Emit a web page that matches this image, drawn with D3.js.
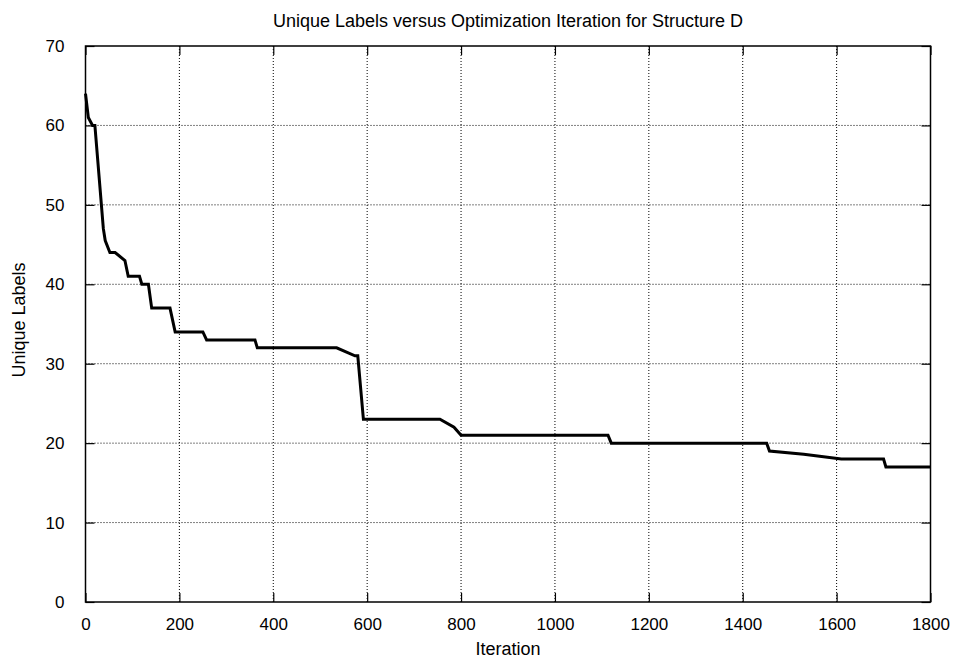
<!DOCTYPE html>
<html>
<head>
<meta charset="utf-8">
<script src="https://cdn.jsdelivr.net/npm/d3@7"></script>
<style>
  body { margin: 0; background: #fff; }
  svg { display: block; font-family: "Liberation Sans", Arial, Helvetica, sans-serif; }
</style>
</head>
<body>
<svg id="chart" width="959" height="659"></svg>
<script>
// values
const iterations = [0, 6, 15, 20, 38, 42, 52, 63, 84, 91, 115, 120, 134, 141, 180, 191,
  250, 258, 361, 366, 535, 574, 580, 592, 755, 785, 800, 1113, 1120, 1451, 1457,
  1530, 1610, 1700, 1705, 1800];
const uniqueLabels = [64, 61, 60, 60, 47, 45.5, 44, 44, 43, 41, 41, 40, 40, 37, 37, 34,
  34, 33, 33, 32, 32, 31, 31, 23, 23, 22, 21, 21, 20, 20, 19,
  18.6, 18, 18, 17, 17];
const xTicks = [0, 200, 400, 600, 800, 1000, 1200, 1400, 1600, 1800];
const yTicks = [0, 10, 20, 30, 40, 50, 60, 70];

const svg = d3.select('#chart');
const plotLeft = 85.5, plotRight = 930.5, plotTop = 46, plotBottom = 602;

const x = d3.scaleLinear().domain([0, 1800]).range([plotLeft, plotRight]);
const y = d3.scaleLinear().domain([0, 70]).range([plotBottom, plotTop]);

// grid
svg.append('g')
  .selectAll('line')
  .data(xTicks.slice(1, -1))
  .join('line')
  .attr('x1', d => x(d)).attr('x2', d => x(d))
  .attr('y1', plotTop).attr('y2', plotBottom)
  .attr('stroke', '#000')
  .attr('stroke-width', 1)
  .attr('stroke-dasharray', '1,2');

svg.append('g')
  .selectAll('line')
  .data(yTicks.slice(1, -1))
  .join('line')
  .attr('x1', plotLeft).attr('x2', plotRight)
  .attr('y1', d => y(d)).attr('y2', d => y(d))
  .attr('stroke', '#000')
  .attr('stroke-width', 1)
  .attr('stroke-dasharray', '1,2');

// axes, ticks pointing inward
const tickLen = 9;
const fmt = d3.format('d');
const xAxis = svg.append('g')
  .attr('transform', `translate(0,${plotBottom})`)
  .call(d3.axisBottom(x).tickValues(xTicks).tickFormat(fmt).tickSizeInner(-tickLen).tickSizeOuter(0).tickPadding(16));
const yAxis = svg.append('g')
  .attr('transform', `translate(${plotLeft},0)`)
  .call(d3.axisLeft(y).tickValues(yTicks).tickFormat(fmt).tickSizeInner(-tickLen).tickSizeOuter(0).tickPadding(21));
const xTop = svg.append('g')
  .attr('transform', `translate(0,${plotTop})`)
  .call(d3.axisTop(x).tickValues(xTicks).tickSizeInner(-tickLen).tickSizeOuter(0).tickFormat(''));
const yRight = svg.append('g')
  .attr('transform', `translate(${plotRight},0)`)
  .call(d3.axisRight(y).tickValues(yTicks).tickSizeInner(-tickLen).tickSizeOuter(0).tickFormat(''));

[xAxis, yAxis, xTop, yRight].forEach(g => {
  g.select('.domain').remove();
  g.selectAll('line').attr('stroke', '#000').attr('stroke-width', 1.2);
  g.selectAll('text')
    .attr('fill', '#000')
    .style('font-size', '17px')
    .style('font-family', '"Liberation Sans", Arial, sans-serif');
});

// frame
svg.append('rect')
  .attr('x', plotLeft).attr('y', plotTop)
  .attr('width', plotRight - plotLeft).attr('height', plotBottom - plotTop)
  .attr('fill', 'none')
  .attr('stroke', '#000')
  .attr('stroke-width', 1.5);

// data line
const line = d3.line()
  .x((d, i) => x(iterations[i]))
  .y(d => y(d));

svg.append('path')
  .datum(uniqueLabels)
  .attr('d', line)
  .attr('fill', 'none')
  .attr('stroke', '#000')
  .attr('stroke-width', 3)
  .attr('stroke-linejoin', 'miter');

// labels
svg.append('text')
  .attr('x', (plotLeft + plotRight) / 2).attr('y', 27)
  .attr('text-anchor', 'middle')
  .style('font-size', '18px')
  .text('Unique Labels versus Optimization Iteration for Structure D');

svg.append('text')
  .attr('x', (plotLeft + plotRight) / 2).attr('y', 655)
  .attr('text-anchor', 'middle')
  .style('font-size', '18px')
  .text('Iteration');

svg.append('text')
  .attr('transform', 'translate(25,320) rotate(-90)')
  .attr('text-anchor', 'middle')
  .style('font-size', '18px')
  .text('Unique Labels');
</script>
</body>
</html>
